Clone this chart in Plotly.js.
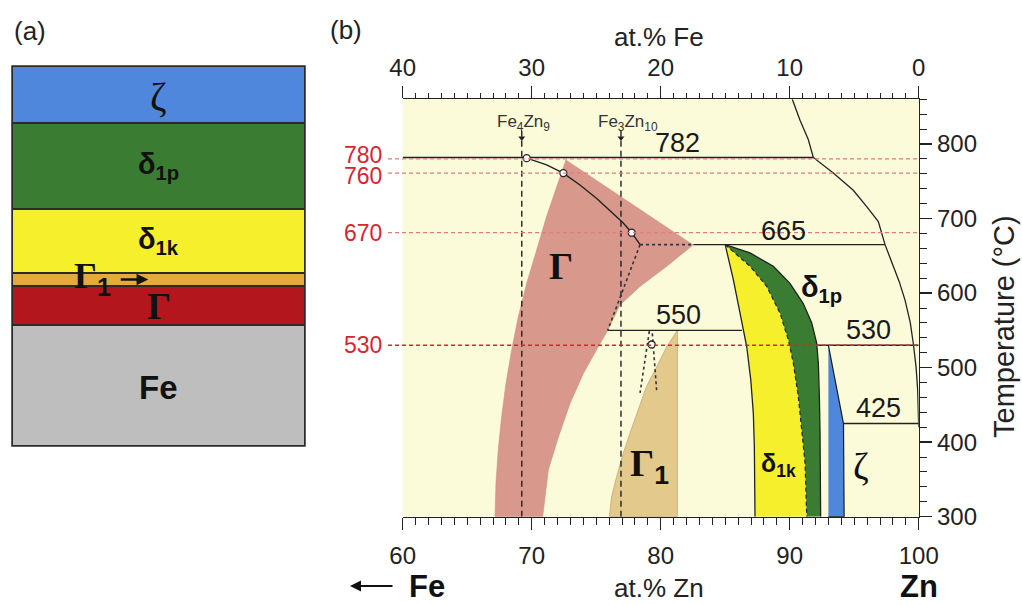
<!DOCTYPE html>
<html><head><meta charset="utf-8">
<script src="https://cdn.plot.ly/plotly-3.0.1.min.js"></script>
<style>html,body{margin:0;padding:0;background:#fff;}#chart{width:1022px;height:605px;}</style>
</head><body><div id="chart"></div>
<script>
// ---------- Panel (a): coating layers, listed bottom -> top ----------
const layerNames = ['Fe', 'Γ', 'Γ1', 'δ1k', 'δ1p', 'ζ'];
const layerThickness = [121, 39, 13, 64, 86, 57];
const layerColors = ['#bebebe', '#b3161c', '#e8a93c', '#f6ef2c', '#3b7c33', '#4f87dc'];

// ---------- Panel (b): Fe–Zn phase diagram (x = at.% Zn, y = T in °C) ----------
// Γ phase field: left boundary (top -> bottom) then right boundary (bottom -> top)
const gammaLeftX  = [72.66, 71.94, 71.16, 70.39, 69.61, 68.96, 68.45, 68.01, 67.67, 67.41, 67.23, 67.16];
const gammaLeftT  = [779, 743, 703, 658, 613, 568, 524, 479, 434, 390, 345, 300];
const gammaRightX = [70.85, 71.29, 72.07, 72.97, 74.0, 75.16, 75.89, 76.84, 78.40, 80.47, 82.53];
const gammaRightT = [300, 363, 407, 452, 492, 528, 550, 584, 609, 636, 665];
// Γ1 phase field: left curved boundary (bottom -> top) and vertical right boundary
const gamma1LeftX = [76.02, 76.20, 76.59, 77.10, 77.62, 78.27, 78.91, 79.69, 80.47, 81.29];
const gamma1LeftT = [300, 327, 354, 385, 412, 443, 475, 501, 528, 550];
const gamma1RightX = 81.29;
// δ1k / δ1p fields (top -> bottom)
const d1kLeftX = [85.0, 85.63, 86.15, 86.67, 86.98, 87.18, 87.26, 87.31];
const d1kLeftT = [665, 618, 573, 528, 484, 439, 394, 300];
const d1kMidX  = [85.0, 86.92, 88.22, 89.25, 89.90, 90.28, 90.67, 90.93, 91.19, 91.32];
const d1kMidT  = [665, 636, 609, 573, 537, 506, 461, 416, 372, 300];
const d1pRightX = [85.0, 86.92, 88.73, 90.02, 91.05, 91.71, 92.09, 92.22, 92.30, 92.35, 92.40];
const d1pRightT = [665, 654, 636, 613, 586, 560, 533, 506, 461, 416, 300];
// ζ field
const zetaX = [93.0, 94.17, 94.22, 93.0];
const zetaT = [530, 425, 300, 300];
// liquidus
const liqX = [90.2, 90.8, 91.44, 91.83, 93.38, 94.93, 95.97, 96.87, 97.39, 97.95, 98.5, 98.95, 99.35, 99.6, 99.8, 99.92, 99.98, 100];
const liqT = [860, 832, 806, 782, 761, 738, 716, 696, 665, 640, 615, 590, 560, 530, 500, 470, 440, 420];
// invariant (horizontal) lines
const isoT  = [782, 665, 550, 530, 425];
const isoX0 = [60, 82.53, 75.89, 92.09, 94.17];
const isoX1 = [91.83, 97.39, 86.3, 100, 100];
const isoLabels = ['782', '665', '550', '530', '425'];
const isoLabelX = [81.3, 89.5, 81.4, 96.1, 96.9];
const isoLabelT = [801, 683, 571, 551, 446];
// stoichiometric compositions
const compX = [69.23, 76.92];
const compNames = ['Fe<sub>4</sub>Zn<sub>9</sub>', 'Fe<sub>3</sub>Zn<sub>10</sub>'];
const compLabelX = [69.35, 77.45];
const compTop = 818, compArrowT = 808, compLabelT = 828;
// curve with marked temperatures
const curveX = [69.61, 71.16, 72.45, 73.74, 75.04, 76.33, 77.10, 77.75, 78.40];
const curveT = [781, 772, 761, 745, 727, 707, 694, 681, 665];
const markX = [69.61, 72.45, 77.75, 79.3];
const markT = [781, 761, 681, 531];
// dotted construction lines
const dotX = [[78.40, 82.53], [78.40, 75.89], [79.12, 78.4], [79.35, 79.7]];
const dotT = [[665, 665], [665, 550], [549, 466], [546, 466]];
// red reference temperatures
const refT = [780, 761, 681, 530];
const refLabels = ['780', '760', '670', '530'];
const refLabelShift = [4, -3, 0, 0];
const refColors = ['#e57a7a', '#e57a7a', '#e57a7a', '#e3202a'];
// phase labels
const SUB1 = '<sub><span style="font-family:Liberation Sans, Arial"><b>1</b></span></sub>';
const phaseText = ['<b>Γ</b>', '<b>Γ</b>' + SUB1, '<b>δ<sub>1p</sub></b>', '<b>δ<sub>1k</sub></b>', 'ζ'];
const phaseX = [72.3, 79.1, 92.45, 89.15, 95.5];
const phaseT = [636, 368, 606, 369, 368];
const phaseSerif = [true, true, false, false, true];
const phaseSize = [38, 38, 29, 25, 38];

// ---------- geometry of the page ----------
const W = 1022, H = 605;
const PX = v => v / W, PY = v => 1 - v / H;
const SANS = 'Liberation Sans, Arial, sans-serif';
const SERIF = 'Liberation Serif, Times New Roman, serif';
const INK = '#222';

const traces = [];
const base = {type: 'scatter', hoverinfo: 'skip', showlegend: false, xaxis: 'x', yaxis: 'y'};

// panel (a) stacked layers
layerNames.forEach((n, i) => traces.push({
  type: 'bar', x: [0], y: [layerThickness[i]], width: [1], name: n,
  marker: {color: layerColors[i], line: {color: '#2b2b2b', width: 1.2}},
  xaxis: 'x3', yaxis: 'y3', hoverinfo: 'skip', showlegend: false
}));

// phase fields
traces.push(Object.assign({}, base, {mode: 'lines', fill: 'toself', fillcolor: '#d8988c',
  x: gammaLeftX.concat(gammaRightX), y: gammaLeftT.concat(gammaRightT), line: {width: 0.6, color: '#cf8c80'}}));
traces.push(Object.assign({}, base, {mode: 'lines', fill: 'toself', fillcolor: '#e4c98c',
  x: [gamma1RightX, gamma1RightX].concat(gamma1LeftX), y: [550, 300].concat(gamma1LeftT), line: {width: 1, color: '#cdb27c'}}));
traces.push(Object.assign({}, base, {mode: 'lines', fill: 'toself', fillcolor: '#f6ef2c', line: {width: 0},
  x: d1kLeftX.concat(d1kMidX.slice().reverse()), y: d1kLeftT.concat(d1kMidT.slice().reverse())}));
traces.push(Object.assign({}, base, {mode: 'lines', fill: 'toself', fillcolor: '#3b7c33', line: {width: 0},
  x: d1kMidX.concat(d1pRightX.slice().reverse()), y: d1kMidT.concat(d1pRightT.slice().reverse())}));
traces.push(Object.assign({}, base, {mode: 'lines', fill: 'toself', fillcolor: '#4f87dc',
  x: zetaX, y: zetaT, line: {width: 1.2, color: '#1e1e1e'}}));

// phase boundaries
traces.push(Object.assign({}, base, {mode: 'lines', x: d1kLeftX, y: d1kLeftT, line: {color: INK, width: 1.3}}));
traces.push(Object.assign({}, base, {mode: 'lines', x: d1kMidX, y: d1kMidT, line: {color: INK, width: 1.2, dash: '4px,3px'}}));
traces.push(Object.assign({}, base, {mode: 'lines', x: d1pRightX, y: d1pRightT, line: {color: INK, width: 1.3}}));
traces.push(Object.assign({}, base, {mode: 'lines', x: liqX, y: liqT, line: {color: INK, width: 1.3}}));
const ix = [], iy = [];
isoT.forEach((t, i) => { ix.push(isoX0[i], isoX1[i], null); iy.push(t, t, null); });
traces.push(Object.assign({}, base, {mode: 'lines', x: ix, y: iy, line: {color: INK, width: 1.4}}));

// stoichiometric dashed lines + arrows
compX.forEach(c => traces.push(Object.assign({}, base, {mode: 'lines', x: [c, c], y: [300, compTop],
  line: {color: INK, width: 1.4, dash: '6px,4px'}})));
traces.push(Object.assign({}, base, {mode: 'markers', x: compX, y: compX.map(() => compArrowT),
  marker: {symbol: 'triangle-down', size: 6, color: INK}}));

// dotted construction lines
dotX.forEach((dx, i) => traces.push(Object.assign({}, base, {mode: 'lines', x: dx, y: dotT[i],
  line: {color: '#333', width: 1.6, dash: 'dot'}})));

// curve through marked temperatures
traces.push(Object.assign({}, base, {mode: 'lines', x: curveX, y: curveT, line: {color: INK, width: 1.4}}));
traces.push(Object.assign({}, base, {mode: 'markers', x: markX, y: markT,
  marker: {symbol: 'circle', size: 7, color: '#ffffff', line: {color: INK, width: 1.3}}}));

// dummy trace for the top (at.% Fe) axis
traces.push({type: 'scatter', mode: 'lines', x: [40, 0], y: [null, null], xaxis: 'x2', yaxis: 'y', hoverinfo: 'skip', showlegend: false});

// ---------- annotations ----------
const ann = [];
const A = o => ann.push(Object.assign({xanchor: 'center', yanchor: 'middle', showarrow: false}, o));
// cumulative centres of layers for panel (a) labels
let acc = 0;
const layerMid = layerThickness.map(t => { const m = acc + t / 2; acc += t; return m; });
const aLabel = {
  'Fe':  {text: '<b>Fe</b>', font: {family: SANS, size: 33, color: '#111'}, dx: 0, dy: -2},
  'Γ':   {text: '<b>Γ</b>', font: {family: SERIF, size: 38, color: '#111'}, dx: 0.0, dy: 0},
  'Γ1':  {text: '<b>Γ</b>' + SUB1, font: {family: SERIF, size: 36, color: '#111'}, dx: -0.225, dy: 1},
  'δ1k': {text: '<b>δ<sub>1k</sub></b>', font: {family: SANS, size: 29, color: '#111'}, dx: 0, dy: 0},
  'δ1p': {text: '<b>δ<sub>1p</sub></b>', font: {family: SANS, size: 29, color: '#111'}, dx: 0, dy: 0},
  'ζ':   {text: 'ζ', font: {family: SERIF, size: 40, color: '#111'}, dx: 0, dy: -2}
};
layerNames.forEach((n, i) => {
  const L = aLabel[n];
  A({xref: 'x3', yref: 'y3', x: L.dx, y: layerMid[i] + L.dy, text: L.text, font: L.font});
});
// arrow pointing at the thin Γ1 layer
A({xref: 'x3', yref: 'y3', x: -0.035, y: layerMid[2], ax: -29, ay: 0, text: '', showarrow: true,
  arrowhead: 2, arrowsize: 0.9, arrowwidth: 2.6, arrowcolor: '#111'});
// red reference labels
refT.forEach((t, i) => A({xref: 'paper', yref: 'y', x: PX(384), y: t, yshift: refLabelShift[i], xanchor: 'right', text: refLabels[i],
  font: {family: SANS, size: 23, color: '#d8262d'}}));
// isotherm numbers
isoLabels.forEach((s, i) => A({xref: 'x', yref: 'y', x: isoLabelX[i], y: isoLabelT[i], text: s,
  font: {family: SANS, size: 27, color: '#1a1a1a'}}));
// compositions
compNames.forEach((s, i) => A({xref: 'x', yref: 'y', x: compLabelX[i], y: compLabelT, text: s,
  font: {family: SANS, size: 17, color: '#333'}}));
// phase labels
phaseText.forEach((s, i) => A({xref: 'x', yref: 'y', x: phaseX[i], y: phaseT[i], text: s,
  font: {family: phaseSerif[i] ? SERIF : SANS, size: phaseSize[i], color: '#111'}}));
// titles and panel letters
A({xref: 'paper', yref: 'paper', x: PX(30), y: PY(31), text: '(a)', font: {family: SANS, size: 26, color: INK}});
A({xref: 'paper', yref: 'paper', x: PX(346), y: PY(30), text: '(b)', font: {family: SANS, size: 26, color: INK}});
A({xref: 'paper', yref: 'paper', x: PX(659), y: PY(37), text: 'at.% Fe', font: {family: SANS, size: 26, color: INK}});
A({xref: 'paper', yref: 'paper', x: PX(659), y: PY(588), text: 'at.% Zn', font: {family: SANS, size: 26, color: INK}});
A({xref: 'paper', yref: 'paper', x: PX(427), y: PY(586), text: '<b>Fe</b>', font: {family: SANS, size: 31, color: '#111'}});
A({xref: 'paper', yref: 'paper', x: PX(919), y: PY(586), text: '<b>Zn</b>', font: {family: SANS, size: 31, color: '#111'}});
A({xref: 'paper', yref: 'paper', x: PX(350), y: PY(586), ax: 44, ay: 0, text: '', showarrow: true,
  arrowhead: 2, arrowsize: 1, arrowwidth: 2.2, arrowcolor: '#111'});
A({xref: 'paper', yref: 'paper', x: PX(1004), y: PY(327), text: 'Temperature (°C)', textangle: -90,
  font: {family: SANS, size: 29, color: INK}});

// ---------- shapes ----------
const shapes = refT.map((t, i) => ({type: 'line', xref: 'paper', yref: 'y', x0: PX(388), x1: PX(918.7), y0: t, y1: t,
  line: {color: refColors[i], width: 1.3, dash: '4px,3px'}}));
shapes.push({type: 'rect', xref: 'paper', yref: 'paper', x0: PX(12), x1: PX(305), y0: PY(446), y1: PY(66),
  line: {color: '#2b2b2b', width: 1.5}, fillcolor: 'rgba(0,0,0,0)'});

const axBase = {showgrid: false, zeroline: false, showline: true, linecolor: INK, linewidth: 1.5,
  ticks: 'outside', ticklen: 12, tickwidth: 1.4, tickcolor: INK,
  tickfont: {family: SANS, size: 24, color: INK}, fixedrange: true};

const layout = {
  width: W, height: H, margin: {l: 0, r: 0, t: 0, b: 0},
  paper_bgcolor: '#ffffff', plot_bgcolor: '#fbfbda', barmode: 'stack', showlegend: false,
  font: {family: SANS, color: INK},
  xaxis: Object.assign({}, axBase, {domain: [PX(402.7), PX(918.7)], range: [60, 100], anchor: 'y', side: 'bottom',
    dtick: 10, tick0: 60, ticklabelstandoff: 5,
    minor: {dtick: 1, ticks: 'outside', ticklen: 7, tickwidth: 1, tickcolor: INK}}),
  xaxis2: Object.assign({}, axBase, {overlaying: 'x', range: [40, 0], anchor: 'y', side: 'top',
    dtick: 10, tick0: 0, ticklabelstandoff: 0,
    minor: {dtick: 1, ticks: 'outside', ticklen: 5, tickwidth: 1, tickcolor: INK}}),
  yaxis: Object.assign({}, axBase, {domain: [PY(516.7), PY(99.3)], range: [300, 860], anchor: 'x', side: 'right',
    dtick: 100, tick0: 300, ticklabelstandoff: 0,
    minor: {dtick: 20, ticks: 'outside', ticklen: 7, tickwidth: 1, tickcolor: INK}}),
  xaxis3: {domain: [PX(12), PX(305)], range: [-0.5, 0.5], anchor: 'y3', visible: false, fixedrange: true},
  yaxis3: {domain: [PY(446), PY(66)], range: [0, 380], anchor: 'x3', visible: false, fixedrange: true},
  annotations: ann, shapes: shapes
};

Plotly.newPlot('chart', traces, layout, {staticPlot: true, displayModeBar: false});
</script></body></html>
